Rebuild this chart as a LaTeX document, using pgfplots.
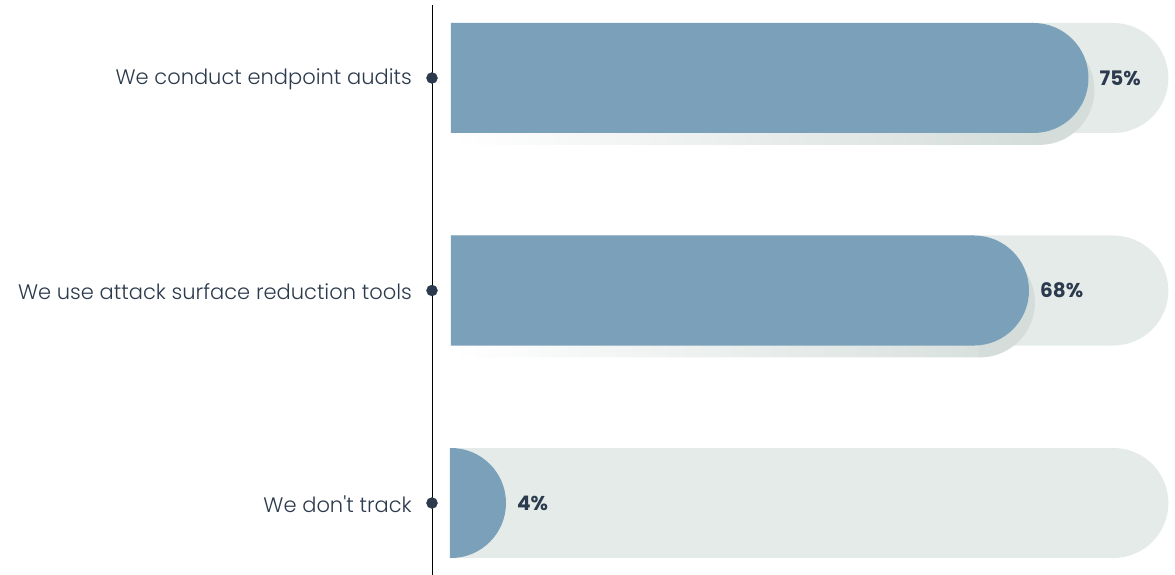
\documentclass[border=0pt]{standalone}
\usepackage{fontspec}
\setmainfont{Poppins}
\newfontfamily\lightfont{Poppins Light}
\usepackage{pgfplots}
\pgfplotsset{compat=1.18}
\usepackage{pgfplotstable}
\definecolor{barblue}{HTML}{7BA0BA}
\definecolor{track}{HTML}{E5EBE9}
\definecolor{txt}{HTML}{2C3A4D}
\definecolor{shadowc}{HTML}{D4DDDA}

\pgfdeclareplotmark{halfdisc}{%
  \pgfpathmoveto{\pgfqpoint{-1pt}{-\pgfplotmarksize}}%
  \pgfpathlineto{\pgfqpoint{0pt}{-\pgfplotmarksize}}%
  \pgfpatharc{-90}{90}{\pgfplotmarksize}%
  \pgfpathlineto{\pgfqpoint{-1pt}{\pgfplotmarksize}}%
  \pgfpathclose\pgfusepathqfill}

\pgfplotstableread{
y v track
0 75 84.4
1 68 84.4
2 4 84.4
}\datatable

\begin{document}
\begin{tikzpicture}
\path[use as bounding box] (0,0) rectangle (1175pt,575pt);
\begin{axis}[
  at={(432pt,0pt)}, anchor=south west,
  scale only axis, width=743pt, height=570pt,
  xmin=-2.235, xmax=85.18,
  ymin=-0.3435, ymax=2.3388,
  y dir=reverse,
  axis x line=none, axis y line=left,
  y axis line style={-, black, line width=0.9pt},
  ytick={0,1,2},
  yticklabels={We conduct endpoint audits, We use attack surface reduction tools, We don't track},
  major tick length=0pt,
  yticklabel style={font=\lightfont\fontsize{21}{24}\selectfont, text=txt, inner sep=0pt, xshift=-20pt, yshift=-1pt},
  clip=false,
]
% track
\addplot[xbar, bar shift=0pt, bar width=110pt, fill=track, draw=none,
  mark=halfdisc, mark size=55pt, mark options={fill=track, draw=none}]
  table[x expr={\thisrow{track}-6.47}, y=y]{\datatable};
% shadow (first two bars only)
\addplot[xbar, bar shift=0pt, bar width=110pt, draw=none,
  shading=axis, left color=white, right color=shadowc,
  skip coords between index={2}{3},
  mark=halfdisc, mark size=55pt, mark options={fill=shadowc, draw=none}]
  table[x expr={max(\thisrow{v}-6.47,0)+0.7}, y expr={\thisrow{y}+0.056}]{\datatable};
% value bars
\addplot[xbar, bar shift=0pt, bar width=110pt, fill=barblue, draw=none,
  mark=halfdisc, mark size=55pt, mark options={fill=barblue, draw=none},
  point meta=explicit,
  nodes near coords={\pgfmathprintnumber[assume math mode=true]{\pgfplotspointmeta}\%},
  every node near coord/.append style={anchor=west, inner sep=0pt, xshift=66pt,
     text=txt, font=\fontsize{20}{22}\selectfont\bfseries}]
  table[x expr={max(\thisrow{v}-6.47,0)}, y=y, meta=v]{\datatable};
% dots on the axis line
\addplot[only marks, mark=*, mark size=5.5pt, color=txt]
  coordinates {(-2.235,0) (-2.235,1) (-2.235,2)};
\end{axis}
\end{tikzpicture}
\end{document}
